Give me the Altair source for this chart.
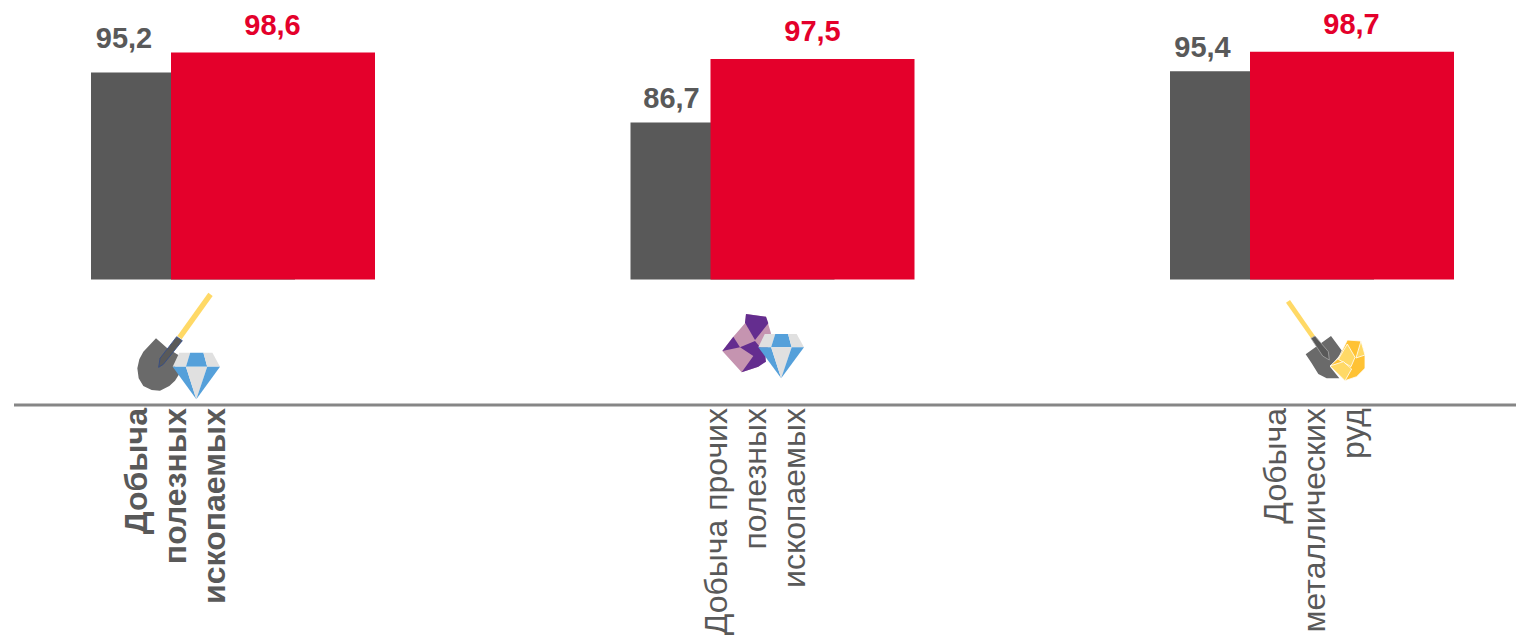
import altair as alt
import pandas as pd

categories = ["Добыча полезных ископаемых", "Добыча прочих полезных ископаемых", "Добыча металлических руд"]
series_2023 = [95.2, 86.7, 95.4]
series_2024 = [98.6, 97.5, 98.7]
value_labels_a = ["95,2", "86,7", "95,4"]
value_labels_b = ["98,6", "97,5", "98,7"]
wrapped_labels = ["Добыча\nполезных\nископаемых", "Добыча прочих\nполезных\nископаемых", "Добыча\nметаллических\nруд"]
label_weights = ["bold", "normal", "normal"]

GRAY = "#595959"
RED = "#E4002B"
FONT = "Liberation Sans"

df = pd.DataFrame({"cat": categories, "a": series_2023, "b": series_2024,
                   "la": value_labels_a, "lb": value_labels_b, "wrap": wrapped_labels})

x = alt.X("cat:N", sort=None, axis=None,
          scale=alt.Scale(type="point", range=[225, 1304], domain=categories, padding=0))
yscale = alt.Scale(domain=[60, 60 + 271.4 / 5.88], range=[271.4, 0])
base = alt.Chart(df)

layers = [
    base.mark_bar(size=204, xOffset=-40, color=GRAY).encode(x=x, y=alt.Y("a:Q", scale=yscale, axis=None), y2=alt.datum(60)),
    base.mark_bar(size=204, xOffset=40, color=RED).encode(x=x, y=alt.Y("b:Q", scale=yscale, axis=None), y2=alt.datum(60)),
]

gray_offsets = [-109, -101, -109.5]
red_offsets = [39.5, 40, 39.5]
gray_lift = [-18, -8, -8]
red_lift = [-11, -12, -12]
line_offsets = [-96, -55.5, -36]
for i, c in enumerate(categories):
    sub = base.transform_filter(alt.datum.cat == c)
    layers.append(sub.mark_text(font=FONT, fontSize=29, fontWeight="bold", color=GRAY, baseline="bottom",
                                xOffset=gray_offsets[i], yOffset=gray_lift[i]).encode(
        x=x, y=alt.Y("a:Q", scale=yscale, axis=None), text="la:N"))
    layers.append(sub.mark_text(font=FONT, fontSize=29, fontWeight="bold", color=RED, baseline="bottom",
                                xOffset=red_offsets[i], yOffset=red_lift[i]).encode(
        x=x, y=alt.Y("b:Q", scale=yscale, axis=None), text="lb:N"))
    layers.append(sub.mark_text(font=FONT, fontSize=32, fontWeight=label_weights[i], color=GRAY, angle=270,
                                align="right", baseline="middle", lineBreak="\n", lineHeight=39,
                                xOffset=line_offsets[i]).encode(
        x=x, y=alt.value(400), text="wrap:N"))

layers.append(alt.Chart(df.head(1)).mark_rule(color="#868686", strokeWidth=3).encode(
    x=alt.value(6), x2=alt.value(1508), y=alt.value(397)))

# decorative icons: polygons traced in the zoomed crop (3x) of each icon
BLUE = "#55A0DA"
LG = "#E0E0E0"


def diamond(l, t, w, h, mid):
    a, b = l + w * 0.14, l + w * 0.37
    c, d = l + w * 0.65, l + w * 0.84
    e, f = l + w * 0.28, l + w * 0.73
    r, m, bot, x0 = l + w, t + mid, t + h, l + w * 0.5
    return [
        (LG, None, [(l, m), (a, t), (b, t), (e, m)]),
        (BLUE, None, [(b, t), (c, t), (f, m), (e, m)]),
        (LG, None, [(c, t), (d, t), (r, m), (f, m)]),
        (BLUE, None, [(l, m), (e, m), (x0, bot)]),
        (LG, None, [(e, m), (f, m), (x0, bot)]),
        (BLUE, None, [(f, m), (r, m), (x0, bot)]),
    ]


icon_1 = [
    ("#6A6A6A", None, [(228, 205), (262, 235), (300, 258), (285, 290), (300, 308), (285, 332), (268, 348), (240, 362), (215, 360), (190, 348), (176, 325), (172, 295), (178, 268), (190, 245)]),
    ("#FFD966", None, [(385, 68), (398, 78), (305, 208), (292, 198)]),
    ("#595959", "#2F4A8C", [(290, 200), (307, 212), (250, 283), (236, 292), (240, 265)]),
] + diamond(278, 248, 142, 140, 42)
icon_2 = [
    ("#C594B0", None, [(168, 132), (228, 140), (243, 190), (225, 270), (205, 290), (155, 307), (97, 243), (130, 200), (165, 160)]),
    ("#642D8F", None, [(168, 132), (228, 140), (235, 160), (195, 210), (165, 158)]),
    ("#642D8F", None, [(130, 200), (150, 232), (97, 243)]),
    ("#642D8F", None, [(150, 232), (195, 213), (225, 250), (228, 275), (205, 290), (155, 307), (190, 258)]),
] + diamond(205, 192, 137, 133, 40)
icon_3 = [
    ("#6A6A6A", None, [(167, 253), (243, 198), (278, 245), (240, 290), (268, 325), (230, 325), (205, 312), (185, 280)]),
    ("#FFD966", None, [(108, 98), (120, 90), (195, 198), (183, 205)]),
    ("#595959", "#A6A6A6", [(183, 205), (195, 198), (235, 245), (238, 270), (218, 258)]),
    ("#FFC234", "#FFFFFF", [(292, 210), (333, 213), (345, 255), (345, 295), (320, 320), (285, 332), (240, 288), (265, 265)]),
    ("#FFD966", "#FFFFFF", [(292, 222), (315, 262), (303, 290), (265, 268)]),
    ("#FFD966", "#FFFFFF", [(240, 288), (280, 275), (305, 297), (285, 332)]),
    ("#FFD966", "#FFFFFF", [(333, 213), (345, 255), (318, 264)]),
]
icons = [(icon_1, 80, 233), (icon_2, 690, 772.5), (icon_3, 1250, 1312)]
ANCHOR_Y = 350

for i, (parts, ox, cx) in enumerate(icons):
    sub = base.transform_filter(alt.datum.cat == categories[i])
    for fill, stroke, pts in parts:
        coords = [(ox + px / 3 - cx, 270 + py / 3 - ANCHOR_Y) for px, py in pts]
        path = "M" + "L".join(f"{a:.2f},{b:.2f}" for a, b in coords) + "Z"
        kw = dict(stroke=stroke, strokeWidth=0.8) if stroke else dict(strokeWidth=0)
        layers.append(sub.mark_point(shape=path, size=4, filled=True, fill=fill, opacity=1, **kw).encode(
            x=x, y=alt.value(ANCHOR_Y - 8)))

chart = alt.layer(*layers).properties(
    width=1508, height=627, padding=0, autosize=alt.AutoSizeParams(type="none")
).configure_view(stroke=None)

chart.save("out.html", embed_options={"renderer": "svg", "actions": False})
